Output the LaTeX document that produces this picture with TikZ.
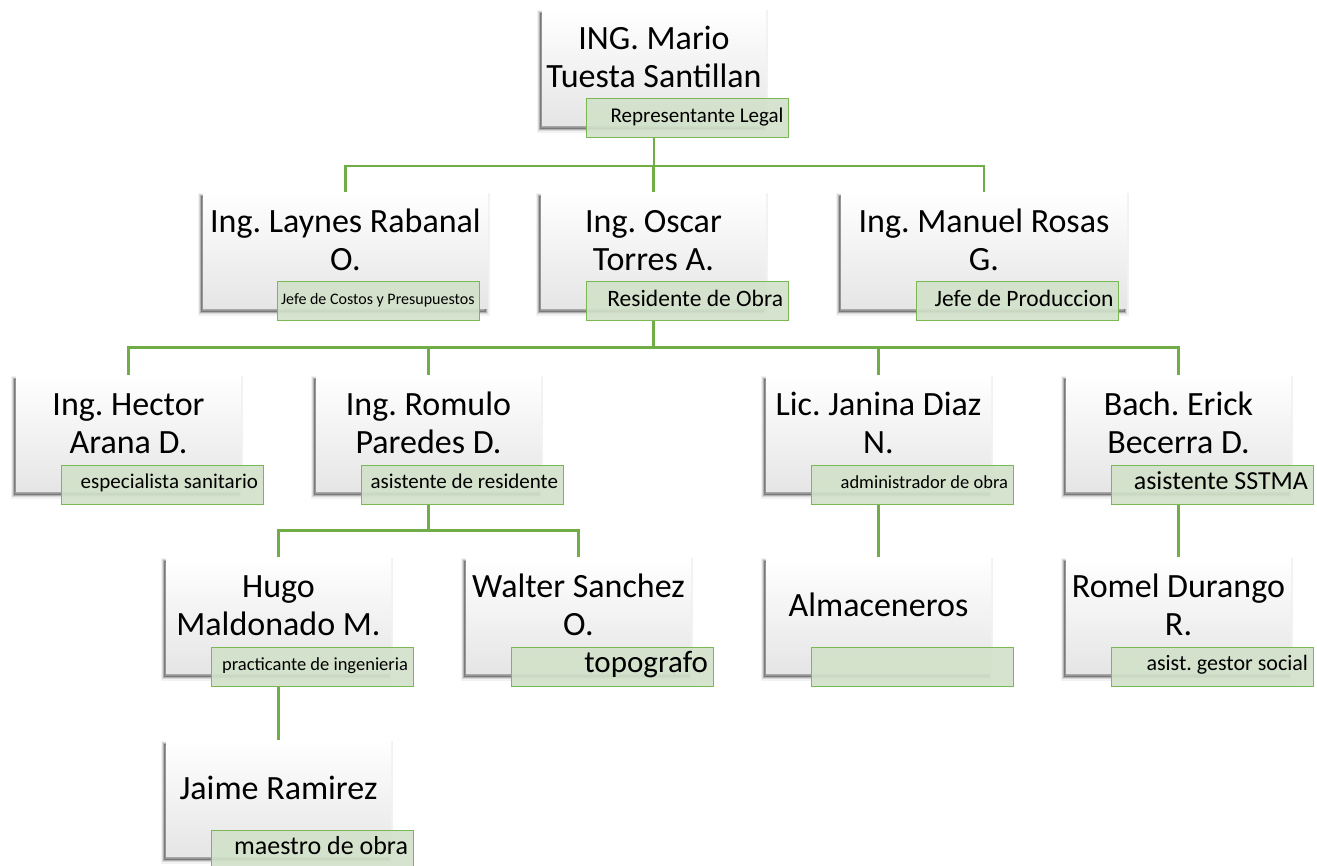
\documentclass[tikz,border=0pt]{standalone}
\usepackage{fontspec}
\setmainfont{Carlito}
\frenchspacing
\usetikzlibrary{calc}
\definecolor{gline}{RGB}{112,173,71}
\definecolor{lfill}{RGB}{210,226,202}
\definecolor{lborder}{RGB}{122,184,84}
\pgfdeclarelayer{back}
\pgfdeclarelayer{bg}
\pgfsetlayers{back,bg,main}
\begin{document}
\begin{tikzpicture}[x=1pt,y=-1pt,
  softshadow/.style={
    preaction={fill=black, draw=black, opacity=0.05, line width=7pt, transform canvas={shift={(-2pt,-4pt)}}},
    preaction={fill=black, draw=black, opacity=0.10, line width=4pt, transform canvas={shift={(-2pt,-4pt)}}},
    preaction={fill=black, draw=black, opacity=0.18, line width=1.5pt, transform canvas={shift={(-2pt,-4pt)}}}},
  box/.style={rectangle, inner sep=0pt, minimum height=116pt, minimum width=225pt,
    anchor=north, softshadow, top color=white, middle color=white, bottom color=black!10},
  nm/.style={inner sep=0pt, anchor=south, text depth=0pt, font=\fontsize{34}{38}\selectfont},
  lab/.style={rectangle, draw=lborder, line width=1pt, fill=lfill, fill opacity=0.9, text opacity=1,
    minimum width=202pt, inner xsep=5pt, inner ysep=0pt, minimum height=39pt},
  lsize/.style={font=\fontsize{#1}{#1}\selectfont},
  conn/.style={draw=gline, line width=2.5pt}]
\newcommand{\lt}[1]{\makebox[192pt][r]{\strut #1}}
\useasboundingbox (0,0) rectangle (1317,866);
\begin{pgfonlayer}{back}
\fill[white] (0,0) rectangle (1317,866);
\end{pgfonlayer}

% level 1
\node[box, minimum width=224pt] (b1) at (654,9) {};
\node[nm] (t1) at ($(b1.north)+(0,79)$) {\begin{tabular}[b]{@{}c@{}}ING. Mario\\Tuesta Santillan\end{tabular}};
\node[lab, lsize=21] (l1) at ($(b1.north)+(33.5,109.5)$) {\lt{Representante Legal}};

% level 2
\node[box, minimum width=285pt] (b2) at (345.5,192) {};
\node[nm] (t2) at ($(b2.north)+(0,79)$) {\begin{tabular}[b]{@{}c@{}}Ing. Laynes Rabanal\\O.\end{tabular}};
\node[lab, lsize=16] (l2) at ($(b2.north)+(33,109.5)$) {\lt{Jefe de Costos y Presupuestos}};

\node[box] (b3) at (653.5,192) {};
\node[nm] (t3) at ($(b3.north)+(0,79)$) {\begin{tabular}[b]{@{}c@{}}Ing. Oscar\\Torres A.\end{tabular}};
\node[lab, lsize=23.5] (l3) at ($(b3.north)+(33.5,109.5)$) {\lt{Residente de Obra}};

\node[box, minimum width=286pt] (b4) at (984,192) {};
\node[nm] (t4) at ($(b4.north)+(0,79)$) {\begin{tabular}[b]{@{}c@{}}Ing. Manuel Rosas\\G.\end{tabular}};
\node[lab, lsize=23.5] (l4) at ($(b4.north)+(33.5,109.5)$) {\lt{Jefe de Produccion}};

% level 3
\node[box] (b5) at (128.5,375) {};
\node[nm] (t5) at ($(b5.north)+(0,79)$) {\begin{tabular}[b]{@{}c@{}}Ing. Hector\\Arana D.\end{tabular}};
\node[lab, lsize=21] (l5) at ($(b5.north)+(33.5,109.5)$) {\lt{especialista sanitario}};

\node[box] (b6) at (428.5,375) {};
\node[nm] (t6) at ($(b6.north)+(0,79)$) {\begin{tabular}[b]{@{}c@{}}Ing. Romulo\\Paredes D.\end{tabular}};
\node[lab, lsize=21] (l6) at ($(b6.north)+(33.5,109.5)$) {\lt{asistente de residente}};

\node[box] (b7) at (878.5,375) {};
\node[nm] (t7) at ($(b7.north)+(0,79)$) {\begin{tabular}[b]{@{}c@{}}Lic. Janina Diaz\\N.\end{tabular}};
\node[lab, lsize=18.5] (l7) at ($(b7.north)+(33.5,109.5)$) {\lt{administrador de obra}};

\node[box] (b8) at (1178.5,375) {};
\node[nm] (t8) at ($(b8.north)+(0,79)$) {\begin{tabular}[b]{@{}c@{}}Bach. Erick\\Becerra D.\end{tabular}};
\node[lab, lsize=26] (l8) at ($(b8.north)+(33.5,109.5)$) {\lt{asistente SSTMA}};

% level 4
\node[box] (b9) at (278.5,557) {};
\node[nm] (t9) at ($(b9.north)+(0,79)$) {\begin{tabular}[b]{@{}c@{}}Hugo\\Maldonado M.\end{tabular}};
\node[lab, lsize=18.5] (l9) at ($(b9.north)+(33.5,109.5)$) {\lt{practicante de ingenieria}};

\node[box] (b10) at (578.5,557) {};
\node[nm] (t10) at ($(b10.north)+(0,79)$) {\begin{tabular}[b]{@{}c@{}}Walter Sanchez\\O.\end{tabular}};
\node[lab, lsize=31] (l10) at ($(b10.north)+(33.5,109.5)$) {\lt{topografo}};

\node[box] (b11) at (878.5,557) {};
\node[nm] (t11) at ($(b11.north)+(0,60)$) {Almaceneros};
\node[lab, lsize=21] (l11) at ($(b11.north)+(33.5,109.5)$) {\lt{}};

\node[box] (b12) at (1178.5,557) {};
\node[nm] (t12) at ($(b12.north)+(0,79)$) {\begin{tabular}[b]{@{}c@{}}Romel Durango\\R.\end{tabular}};
\node[lab, lsize=22] (l12) at ($(b12.north)+(33.5,109.5)$) {\lt{asist. gestor social}};

% level 5
\node[box] (b13) at (278.5,740) {};
\node[nm] (t13) at ($(b13.north)+(0,60)$) {Jaime Ramirez};
\node[lab, lsize=26] (l13) at ($(b13.north)+(33.5,109.5)$) {\lt{maestro de obra}};

% connectors
\begin{pgfonlayer}{bg}
\coordinate (bus1) at (0,166);
\coordinate (bus2) at (0,347.5);
\coordinate (bus3) at (0,530.5);
\foreach \c in {b2,b3,b4} \draw[conn] (b1 |- l1.south) -- (b1 |- bus1) -| (\c.north);
\foreach \c in {b5,b6,b7,b8} \draw[conn] (b3 |- l3.south) -- (b3 |- bus2) -| (\c.north);
\foreach \c in {b9,b10} \draw[conn] (b6 |- l6.south) -- (b6 |- bus3) -| (\c.north);
\draw[conn] (b7 |- l7.south) -- (b11.north);
\draw[conn] (b8 |- l8.south) -- (b12.north);
\draw[conn] (b9 |- l9.south) -- (b13.north);
\end{pgfonlayer}
\end{tikzpicture}
\end{document}
